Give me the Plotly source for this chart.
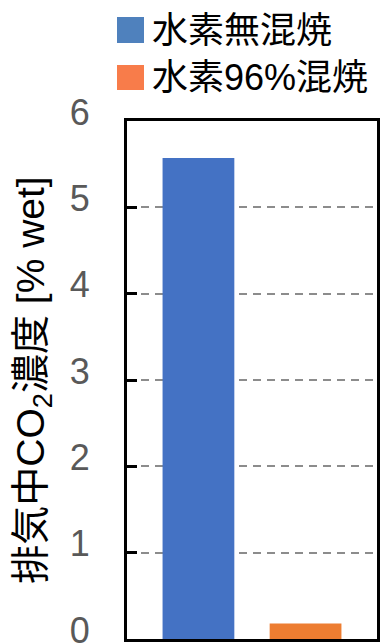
import plotly.graph_objects as go

categories = ["水素無混焼", "水素96%混焼"]
values = [5.57, 0.18]
colors = ["#4472C4", "#ED7D31"]
legend_colors = ["#4F81BD", "#F87C4A"]
y_ticks = [0, 1, 2, 3, 4, 5, 6]

W, H = 380, 643
L, R, T, B = 127, 3, 121, 4
pw, ph = W - L - R, H - T - B

def px_x(px):
    return (px - L) / pw

def px_y(py):
    return (H - B - py) / ph

fig = go.Figure()
for cat, val, col in zip(categories, values, colors):
    fig.add_trace(go.Bar(x=[cat], y=[val], marker=dict(color=col, line=dict(width=0)),
                         width=0.67, showlegend=False))

font_main = "Liberation Sans, Arial, Noto Sans CJK JP"

shapes = []
annotations = []
rows = [(17, 43, 30.5), (65, 90, 77.5)]
for (y0, y1, yc), name, col in zip(rows, categories, legend_colors):
    shapes.append(dict(type="rect", xref="paper", yref="paper",
                       x0=px_x(117), x1=px_x(144), y0=px_y(y1), y1=px_y(y0),
                       fillcolor=col, line=dict(width=0)))
    annotations.append(dict(xref="paper", yref="paper", x=px_x(150), y=px_y(yc),
                            xanchor="left", yanchor="middle", showarrow=False,
                            text=name, font=dict(family=font_main, size=36, color="#000000")))

fig.update_layout(
    width=W, height=H,
    margin=dict(l=L, r=R, t=T, b=B, autoexpand=False),
    paper_bgcolor="white", plot_bgcolor="white",
    barmode="overlay",
    shapes=shapes,
    annotations=annotations,
    xaxis=dict(type="category", range=[-0.667, 1.667], showticklabels=False,
               showgrid=False, zeroline=False, ticks="", automargin=False,
               showline=True, linecolor="black", linewidth=3, mirror=True),
    yaxis=dict(range=[0, 6], tickvals=y_ticks, ticktext=[str(v) for v in y_ticks],
               showgrid=True, gridcolor="#8C8C8C", gridwidth=2, griddash="8px,6px",
               zeroline=False, ticks="inside", ticklen=10, tickwidth=3, tickcolor="black",
               showline=True, linecolor="black", linewidth=3, mirror=True,
               automargin=False,
               tickfont=dict(family=font_main, size=36, color="#595959"),
               ticklabelstandoff=27, ticklabelshift=-9, ticklabeloverflow="allow",
               title=dict(text="排気中CO<sub>2</sub>濃度 [% wet]",
                          font=dict(family=font_main, size=39, color="#000000"),
                          standoff=14)),
)

fig.write_html("out.html")
